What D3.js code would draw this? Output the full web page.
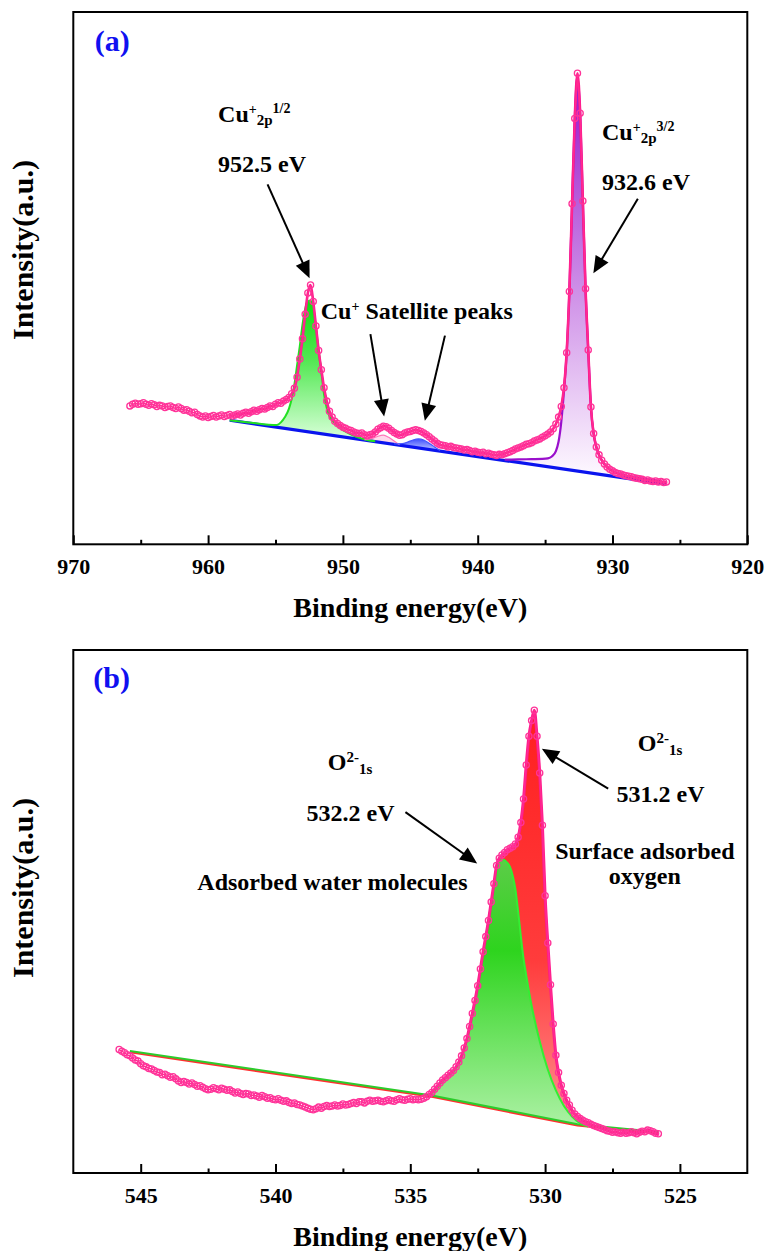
<!DOCTYPE html>
<html><head><meta charset="utf-8">
<script src="https://cdn.jsdelivr.net/npm/d3@7"></script>
<style>
body{margin:0;background:#fff}
svg{display:block}
svg text{font-family:"Liberation Serif","DejaVu Serif",serif !important;font-weight:bold}
</style>
</head><body>
<svg id="chart" width="767" height="1251"></svg>
<script>
// ---------- DATA : panel (a) Cu 2p ----------
const cuStart = 965.8, cuStep = 0.2;   // binding energy of first sample, eV step
const cuIntensity = [
26.0,26.3,26.5,26.3,26.4,26.6,26.3,26.1,26.4,26.2,
25.9,26.1,26.0,25.7,25.9,26.0,25.7,25.5,25.8,25.5,
25.2,25.3,25.0,24.7,24.8,24.4,24.1,23.9,24.1,23.8,
24.0,24.2,23.9,24.1,24.3,24.0,24.2,24.4,24.1,24.3,
24.5,24.3,24.6,24.8,24.6,24.9,25.2,25.0,25.3,25.5,
25.4,25.7,26.0,25.9,26.3,26.6,26.5,26.9,27.2,27.6,
28.3,29.3,31.4,34.8,38.6,43.2,47.2,48.7,45.6,41.0,
36.4,32.8,29.4,26.9,25.0,23.9,23.1,22.7,22.3,22.0,
21.8,21.5,21.4,21.1,20.9,20.8,20.9,20.6,20.4,20.6,
20.7,21.1,21.6,21.9,22.2,22.1,21.8,21.4,21.0,20.7,
20.5,20.6,20.9,21.1,21.2,21.4,21.5,21.4,21.2,20.9,
20.6,20.2,19.8,19.4,19.0,18.7,18.6,18.5,18.3,18.4,
18.2,18.1,18.0,17.9,17.7,17.8,17.6,17.4,17.5,17.3,
17.2,17.3,17.0,17.1,16.9,16.8,16.7,16.9,16.8,17.0,
17.2,17.4,17.6,17.9,18.1,18.3,18.5,18.8,18.9,19.1,
19.4,19.6,19.8,20.1,20.4,20.7,21.1,21.7,22.6,23.9,
25.9,29.4,36.0,47.5,64.0,80.0,88.5,81.0,64.5,48.0,
36.5,25.8,20.8,18.3,16.8,15.8,15.1,14.5,14.1,13.8,
13.5,13.3,13.2,13.0,12.9,12.8,12.7,12.5,12.4,12.3,
12.2,12.0,12.1,11.9,11.8,11.9,11.7,11.8,11.6,11.7];
const cuFitStart = 958.4;   // envelope drawn from here to the end
const cuBaseline = [[958.4,23.3],[926.0,11.3]];
const cu2p12Peak = [[958.4,23.3],[957.0,22.9],[955.5,22.45],[954.9,22.4],[954.6,22.9],[954.3,23.9],[954.0,25.5],[953.8,27.3],[953.6,30.0],[953.4,33.6],[953.2,37.2],[953.0,41.2],[952.8,44.2],[952.6,45.6],[952.4,45.8],[952.2,44.2],[952.0,40.8],[951.8,36.4],[951.6,32.5],[951.4,28.2],[951.2,25.6],[951.0,24.1],[950.6,22.8],[950.2,21.8],[949.6,20.9],[949.0,20.2],[948.2,19.6],[947.6,19.35]];
const cuSat1Peak = [[948.4,19.65],[947.8,19.9],[947.4,20.3],[947.0,20.5],[946.6,20.1],[946.2,19.4],[945.8,18.7]];
const cuSat2Peak = [[946.2,18.85],[945.6,18.9],[945.2,19.2],[944.8,19.6],[944.4,19.8],[944.0,19.6],[943.6,19.0],[943.2,18.3],[942.8,17.6]];
const cu2p32Peak = [[938.0,15.9],[937.0,15.95],[936.0,16.0],[935.2,16.05],[934.8,16.15],[934.5,16.5],[934.2,17.5],[934.0,19.3],[933.8,23.0],[933.6,28.8],[933.4,36.0],[933.2,47.5],[933.0,64.0],[932.8,80.0],[932.6,88.0],[932.4,81.0],[932.2,64.5],[932.0,48.0],[931.8,36.5],[931.6,25.8],[931.4,20.8],[931.2,18.3],[931.0,16.8],[930.8,15.8],[930.4,14.5],[930.0,13.8],[929.4,13.2],[928.6,12.7],[927.6,12.3],[926.8,12.0],[926.0,11.5]];
const cuTicks = [970,960,950,940,930,920];
const cuMinorTicks = [965,955,945,935,925];

// ---------- DATA : panel (b) O 1s ----------
const oStart = 545.8, oStep = 0.1;
const oIntensity = [
23.6,23.3,23.0,22.6,22.4,22.0,21.6,21.4,20.9,20.5,
20.3,20.0,19.9,19.6,19.3,19.2,18.8,18.9,18.6,18.3,
18.4,18.0,17.6,17.3,17.5,17.3,17.0,17.2,16.9,16.6,
16.7,16.4,16.1,15.9,16.0,16.3,16.1,15.9,16.2,16.0,
15.8,15.9,15.6,15.3,15.5,15.2,15.0,15.2,15.1,14.8,
14.9,14.7,14.5,14.8,14.6,14.3,14.4,14.1,14.0,14.2,
13.9,13.7,13.8,13.5,13.3,13.4,13.1,13.0,12.8,12.6,
12.4,12.2,12.1,12.3,12.6,12.4,12.7,12.9,12.7,12.8,
13.0,12.8,12.9,13.2,13.0,13.1,13.3,13.5,13.3,13.6,
13.6,13.4,13.7,13.9,13.7,13.8,13.9,13.7,13.6,13.8,
14.0,13.8,13.7,14.0,14.2,14.0,13.9,14.1,14.2,14.0,
14.1,14.0,14.1,14.3,14.6,15.0,15.4,16.0,16.6,17.2,
17.8,18.2,18.7,19.1,19.6,20.3,21.2,22.4,23.9,25.7,
28.0,30.5,33.0,35.8,39.0,42.3,45.2,48.3,51.8,55.3,
58.8,60.2,60.8,61.3,61.8,62.1,62.4,62.9,64.2,67.0,
71.5,78.0,83.5,86.5,88.5,83.5,76.5,66.5,53.0,44.0,
36.0,28.5,22.5,19.2,16.8,15.2,13.9,13.0,12.0,11.3,
10.8,10.4,10.1,9.8,9.6,9.3,9.1,8.9,8.7,8.5,
8.3,8.1,8.0,7.8,7.9,7.7,7.6,7.8,7.6,7.7,
7.9,7.7,7.5,7.8,8.0,7.9,8.2,8.1,7.9,7.6,
7.5];
const oFitStart = 534.3;
const oBaseline = [[545.4,23.1],[534.2,14.6],[528.8,9.1],[525.8,7.6]];
const oWaterPeak = [[534.3,14.7],[534.1,15.7],[534.0,16.3],[533.8,17.6],[533.6,18.5],[533.4,19.4],[533.2,21.0],[533.0,23.7],[532.8,27.6],[532.6,32.6],[532.4,38.6],[532.2,44.9],[532.0,51.5],[531.8,57.2],[531.7,59.2],[531.6,60.0],[531.5,59.8],[531.4,59.3],[531.3,58.5],[531.2,56.8],[531.1,54.2],[531.0,50.0],[530.9,45.3],[530.8,41.0],[530.7,37.8],[530.5,32.0],[530.2,25.2],[529.9,19.8],[529.6,15.8],[529.3,12.8],[529.0,10.8],[528.7,9.5],[528.4,8.9]];
const oTicks = [545,540,535,530,525];
const oMinorTicks = [542.5,537.5,532.5,527.5];

// ---------- LAYOUT ----------
const FONT = '"Liberation Serif","DejaVu Serif",serif';
const X0 = 73.3, X1 = 747.3;
const svg = d3.select('#chart');
const defs = svg.append('defs');

function gradient(id, yTop, yBot, stops){
  const lg = defs.append('linearGradient').attr('id', id)
    .attr('gradientUnits','userSpaceOnUse').attr('x1',0).attr('x2',0)
    .attr('y1', yTop).attr('y2', yBot);
  stops.forEach(([o,c]) => lg.append('stop').attr('offset', o).attr('stop-color', c));
  return `url(#${id})`;
}
function toPoints(start, step, vals){
  return vals.map((v,i) => [+(start - i*step).toFixed(2), v]);
}
function arrow(g, x1, y1, x2, y2){
  const dx = x2-x1, dy = y2-y1, L = Math.hypot(dx,dy), ux = dx/L, uy = dy/L;
  const hl = 17, hw = 7.5, bx = x2-ux*hl, by = y2-uy*hl;
  g.append('line').attr('x1',x1).attr('y1',y1).attr('x2',bx+ux*3).attr('y2',by+uy*3)
    .attr('stroke','#000').attr('stroke-width',2);
  g.append('polygon').attr('points',
    `${x2},${y2} ${bx-uy*hw},${by+ux*hw} ${bx+uy*hw},${by-ux*hw}`).attr('fill','#000');
}
function txt(g, x, y, size){
  return g.append('text').attr('x',x).attr('y',y).attr('font-size',size)
    .attr('font-family',FONT).attr('font-weight','bold').attr('fill','#000');
}
function scriptLabel(g, x, y, main, parts){
  const t = txt(g, x, y, 24);
  t.append('tspan').text(main);
  parts.forEach(p => t.append('tspan').attr('font-size',p.size).attr('dy',p.dy).text(p.text));
  return t;
}

function drawPanel(cfg){
  const g = svg.append('g');
  const x = d3.scaleLinear().domain(cfg.domain).range([X0, X1]);
  const y = d3.scaleLinear().domain([0,100]).range([cfg.bottom, cfg.top]);
  const base = d3.scaleLinear().domain(cfg.baseline.map(d=>d[0])).range(cfg.baseline.map(d=>d[1])).clamp(true);
  const area = d3.area().x(d=>x(d[0])).y0(d=>y(base(d[0]))).y1(d=>y(Math.max(d[1], base(d[0])))).curve(d3.curveMonotoneX);
  const line = d3.line().x(d=>x(d[0])).y(d=>y(d[1])).curve(d3.curveMonotoneX);
  cfg.draw(g, x, y, base, area, line);

  const major = d3.axisBottom(x).tickValues(cfg.ticks).tickSize(-9).tickPadding(14).tickFormat(d3.format('d'));
  const minor = d3.axisBottom(x).tickValues(cfg.minor).tickSize(-4.5).tickFormat('');
  const ga = g.append('g').attr('transform',`translate(0,${cfg.bottom})`).call(major);
  const gm = g.append('g').attr('transform',`translate(0,${cfg.bottom})`).call(minor);
  [ga, gm].forEach(a => { a.attr('font-family',FONT); a.select('.domain').remove(); a.selectAll('line').attr('stroke','#000').attr('stroke-width',2); });
  ga.selectAll('text').attr('font-size',22).attr('fill','#000')
    .attr('font-family',FONT).attr('font-weight','bold');
  g.append('rect').attr('x',X0).attr('y',cfg.top).attr('width',X1-X0).attr('height',cfg.bottom-cfg.top)
    .attr('fill','none').attr('stroke','#000').attr('stroke-width',2);
  txt(g, (X0+X1)/2, cfg.bottom+73, 28).attr('text-anchor','middle').text('Binding energy(eV)');
  txt(g, 0, 0, 30).attr('transform',`translate(33,${cfg.top+238}) rotate(-90)`).attr('text-anchor','middle')
    .text('Intensity(a.u.)');
  txt(g, x(cfg.tag[0]), y(cfg.tag[1]), 30).attr('fill','#1010f0').text(cfg.tag[2]);
  cfg.annotate(g, x, y);
}

function markers(g, pts, x, y){
  g.append('path').datum(pts).attr('d', d3.line().x(d=>x(d[0])).y(d=>y(d[1])))
    .attr('fill','none').attr('stroke','#ff2a90').attr('stroke-width',1.4);
  g.append('g').selectAll('circle').data(pts).join('circle')
    .attr('cx',d=>x(d[0])).attr('cy',d=>y(d[1])).attr('r',3.1)
    .attr('fill','none').attr('stroke','#ff3399').attr('stroke-width',1.3);
}

// ---------- PANEL (a) ----------
drawPanel({
  top: 12, bottom: 544.3, domain: [970, 920], baseline: cuBaseline,
  ticks: cuTicks, minor: cuMinorTicks, tag: [968.4, 92.7, '(a)'],
  draw(g, x, y, base, area, line){
    const pts = toPoints(cuStart, cuStep, cuIntensity);
    g.append('path').datum(cu2p12Peak).attr('d', area)
      .attr('fill', gradient('gA1', y(46), y(20), [[0,'#10dd10'],[0.45,'#55e855'],[1,'#d6ffd6']]));
    g.append('path').datum(cuSat1Peak).attr('d', area).attr('fill','#ffd9ec');
    g.append('path').datum(cuSat2Peak).attr('d', area)
      .attr('fill', gradient('gA3', y(20), y(18), [[0,'#3344ff'],[1,'#aab4ff']]));
    g.append('path').datum(cu2p32Peak).attr('d', area)
      .attr('fill', gradient('gA2', y(88), y(13), [[0,'#9a14c8'],[0.4,'#c070e0'],[1,'#fdf8ff']]));
    g.append('path').datum(cuBaseline).attr('d', d3.line().x(d=>x(d[0])).y(d=>y(d[1])))
      .attr('stroke','#0a14ee').attr('stroke-width',3.2).attr('fill','none');
    g.append('path').datum(cu2p12Peak).attr('d', line).attr('fill','none').attr('stroke','#22e022').attr('stroke-width',2);
    g.append('path').datum(cuSat1Peak).attr('d', line).attr('fill','none').attr('stroke','#ff77bb').attr('stroke-width',1.2);
    g.append('path').datum(cuSat2Peak).attr('d', line).attr('fill','none').attr('stroke','#4455ff').attr('stroke-width',1.2);
    g.append('path').datum(cu2p32Peak).attr('d', line).attr('fill','none').attr('stroke','#9a10cc').attr('stroke-width',2.2);
    g.append('path').datum(pts.filter(d=>d[0] <= cuFitStart)).attr('d', line)
      .attr('fill','none').attr('stroke','#ff1a8c').attr('stroke-width',2.6);
    markers(g, pts, x, y);
  },
  annotate(g, x, y){
    scriptLabel(g, x(959.26), y(79.3), 'Cu', [{text:'+',size:14,dy:-8},{text:'2p',size:15,dy:11},{text:'1/2',size:14,dy:-12}]);
    txt(g, x(959.26), y(69.9), 24).text('952.5 eV');
    scriptLabel(g, x(930.78), y(76.0), 'Cu', [{text:'+',size:14,dy:-8},{text:'2p',size:15,dy:11},{text:'3/2',size:14,dy:-12}]);
    txt(g, x(930.78), y(66.6), 24).text('932.6 eV');
    scriptLabel(g, x(951.64), y(42.3), 'Cu', [{text:'+',size:14,dy:-8},{text:' Satellite peaks',size:24,dy:8}]);
    arrow(g, x(955.59), y(67.6), x(952.47), y(50.0));
    arrow(g, x(928.12), y(64.9), x(931.42), y(50.9));
    arrow(g, x(947.96), y(39.5), x(946.94), y(24.0));
    arrow(g, x(942.43), y(39.2), x(943.92), y(23.2));
  }
});

// ---------- PANEL (b) ----------
drawPanel({
  top: 650, bottom: 1173, domain: [547.5, 522.5], baseline: oBaseline,
  ticks: oTicks, minor: oMinorTicks, tag: [546.76, 92.7, '(b)'],
  draw(g, x, y, base, area, line){
    const pts = toPoints(oStart, oStep, oIntensity);
    const fit = pts.filter(d => d[0] <= oFitStart);
    g.append('path').datum(fit).attr('d', area)
      .attr('fill', gradient('gB1', y(88), y(9), [[0,'#ff2020'],[0.6,'#ff3c3c'],[1,'#ff9090']]));
    g.append('path').datum(oWaterPeak).attr('d', area)
      .attr('fill', gradient('gB2', y(60), y(10), [[0,'#5ccc48'],[0.35,'#2ed41e'],[1,'#a8f0a0']]));
    const bl = d3.line().x(d=>x(d[0])).y(d=>y(d[1]));
    g.append('path').datum(oBaseline).attr('d', bl).attr('stroke','#ff3030').attr('stroke-width',2.4).attr('fill','none');
    g.append('path').datum(oBaseline).attr('d', bl).attr('transform','translate(0,-1.2)')
      .attr('stroke','#2ccc2c').attr('stroke-width',2).attr('fill','none');
    g.append('path').datum(oWaterPeak).attr('d', line).attr('fill','none').attr('stroke','#33ee33').attr('stroke-width',2);
    g.append('path').datum(fit).attr('d', line).attr('fill','none').attr('stroke','#ff1a8c').attr('stroke-width',3);
    markers(g, pts, x, y);
  },
  annotate(g, x, y){
    scriptLabel(g, x(538.06), y(77.1), 'O', [{text:'2-',size:15,dy:-8},{text:'1s',size:15,dy:12}]);
    txt(g, x(538.85), y(67.35), 24).text('532.2 eV');
    txt(g, x(542.9), y(54.1), 24).text('Adsorbed water molecules');
    scriptLabel(g, x(526.56), y(80.7), 'O', [{text:'2-',size:15,dy:-8},{text:'1s',size:15,dy:12}]);
    txt(g, x(527.35), y(71.0), 24).text('531.2 eV');
    txt(g, x(526.3), y(60.0), 24).attr('text-anchor','middle').text('Surface adsorbed');
    txt(g, x(526.3), y(55.2), 24).attr('text-anchor','middle').text('oxygen');
    arrow(g, x(535.18), y(69.0), x(532.52), y(59.2));
    arrow(g, x(527.66), y(73.5), x(530.12), y(81.1));
  }
});
</script>
</body></html>
